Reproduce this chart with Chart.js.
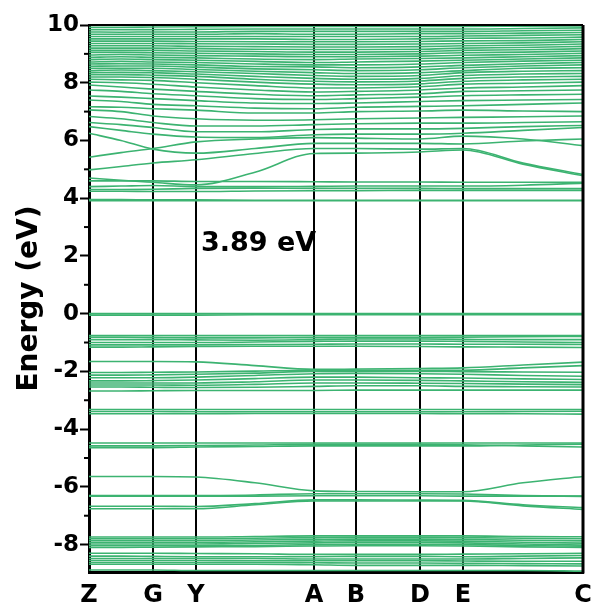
<!DOCTYPE html>
<html>
<head>
<meta charset="utf-8">
<script src="https://cdn.jsdelivr.net/npm/chart.js@4.4.1/dist/chart.umd.min.js"></script>
<style>
html, body { margin: 0; padding: 0; background: #fff; }
</style>
</head>
<body>
<canvas id="band-chart" width="593" height="610"></canvas>
<script>
// k-path (Z, mid, G, Y, mid, A, B, D, E, mid, C)
const kPath = [0, 0.32, 0.64, 1.07, 1.66, 2.25, 2.67, 3.31, 3.74, 4.34, 4.94];
const kLabels = ['Z', 'G', 'Y', 'A', 'B', 'D', 'E', 'C'];
const kLabelPos = [0, 0.64, 1.07, 2.25, 2.67, 3.31, 3.74, 4.94];
const energyTicks = [-8, -6, -4, -2, 0, 2, 4, 6, 8, 10];
const minorTicks = [-7, -5, -3, -1, 1, 3, 5, 7, 9];
const gapLabel = '3.89 eV';

// valence bands (eV), one value per k-point
const valenceBands = [
    [0.00, 0.00, 0.00, 0.00, 0.00, 0.00, 0.00, 0.00, 0.00, 0.00, 0.00],
    [-0.05, -0.05, -0.05, -0.05, -0.04, -0.04, -0.04, -0.04, -0.04, -0.04, -0.04],
    [-0.76, -0.76, -0.76, -0.76, -0.76, -0.76, -0.76, -0.76, -0.76, -0.76, -0.76],
    [-0.82, -0.82, -0.83, -0.84, -0.84, -0.83, -0.83, -0.83, -0.82, -0.80, -0.79],
    [-0.90, -0.90, -0.90, -0.91, -0.92, -0.90, -0.88, -0.88, -0.89, -0.90, -0.90],
    [-1.00, -1.00, -1.00, -1.00, -0.98, -0.96, -0.95, -0.95, -0.96, -0.98, -1.00],
    [-1.08, -1.08, -1.08, -1.08, -1.07, -1.06, -1.05, -1.05, -1.06, -1.06, -1.07],
    [-1.16, -1.16, -1.15, -1.14, -1.13, -1.13, -1.13, -1.14, -1.15, -1.16, -1.17],
    [-1.66, -1.66, -1.66, -1.67, -1.80, -1.93, -1.92, -1.90, -1.88, -1.78, -1.68],
    [-2.04, -2.04, -2.03, -2.02, -1.99, -1.96, -1.96, -1.96, -1.96, -1.88, -1.80],
    [-2.13, -2.13, -2.12, -2.10, -2.06, -2.00, -2.00, -2.00, -2.01, -2.02, -2.03],
    [-2.22, -2.22, -2.22, -2.20, -2.14, -2.08, -2.07, -2.08, -2.10, -2.14, -2.17],
    [-2.33, -2.33, -2.32, -2.30, -2.25, -2.20, -2.20, -2.22, -2.23, -2.26, -2.28],
    [-2.40, -2.40, -2.40, -2.40, -2.36, -2.30, -2.30, -2.31, -2.33, -2.36, -2.38],
    [-2.47, -2.47, -2.47, -2.48, -2.45, -2.40, -2.40, -2.41, -2.42, -2.44, -2.46],
    [-2.54, -2.54, -2.55, -2.56, -2.55, -2.52, -2.50, -2.50, -2.52, -2.53, -2.54],
    [-2.68, -2.68, -2.67, -2.66, -2.66, -2.66, -2.65, -2.65, -2.65, -2.65, -2.65],
    [-3.32, -3.32, -3.32, -3.32, -3.32, -3.32, -3.32, -3.32, -3.32, -3.32, -3.32],
    [-3.39, -3.39, -3.39, -3.40, -3.40, -3.40, -3.40, -3.40, -3.40, -3.39, -3.38],
    [-3.47, -3.47, -3.47, -3.47, -3.46, -3.46, -3.46, -3.46, -3.47, -3.47, -3.48],
    [-4.48, -4.48, -4.48, -4.48, -4.48, -4.48, -4.48, -4.48, -4.48, -4.48, -4.48],
    [-4.58, -4.58, -4.58, -4.57, -4.55, -4.53, -4.53, -4.53, -4.54, -4.58, -4.62],
    [-4.64, -4.64, -4.64, -4.62, -4.60, -4.58, -4.58, -4.58, -4.58, -4.55, -4.52],
    [-5.64, -5.64, -5.64, -5.66, -5.86, -6.14, -6.16, -6.17, -6.17, -5.86, -5.64],
    [-6.30, -6.30, -6.30, -6.30, -6.28, -6.24, -6.24, -6.24, -6.25, -6.30, -6.33],
    [-6.32, -6.32, -6.32, -6.32, -6.32, -6.31, -6.31, -6.31, -6.32, -6.32, -6.32],
    [-6.67, -6.67, -6.67, -6.68, -6.58, -6.45, -6.45, -6.46, -6.47, -6.62, -6.72],
    [-6.76, -6.76, -6.76, -6.76, -6.62, -6.49, -6.49, -6.49, -6.49, -6.66, -6.78],
    [-7.74, -7.74, -7.74, -7.74, -7.72, -7.70, -7.70, -7.70, -7.70, -7.72, -7.73],
    [-7.80, -7.80, -7.80, -7.80, -7.78, -7.76, -7.75, -7.75, -7.76, -7.78, -7.80],
    [-7.86, -7.86, -7.86, -7.86, -7.84, -7.82, -7.81, -7.81, -7.82, -7.85, -7.87],
    [-7.92, -7.92, -7.92, -7.92, -7.90, -7.88, -7.87, -7.87, -7.88, -7.92, -7.95],
    [-7.98, -7.98, -7.98, -7.98, -7.96, -7.94, -7.93, -7.93, -7.94, -7.98, -8.02],
    [-8.04, -8.04, -8.04, -8.04, -8.03, -8.00, -7.99, -7.99, -8.00, -8.03, -8.06],
    [-8.10, -8.10, -8.09, -8.08, -8.07, -8.05, -8.04, -8.04, -8.05, -8.08, -8.10],
    [-8.30, -8.30, -8.30, -8.31, -8.32, -8.34, -8.34, -8.34, -8.33, -8.32, -8.30],
    [-8.40, -8.40, -8.41, -8.42, -8.42, -8.42, -8.41, -8.41, -8.42, -8.40, -8.38],
    [-8.48, -8.48, -8.48, -8.48, -8.48, -8.50, -8.50, -8.50, -8.50, -8.48, -8.46],
    [-8.55, -8.55, -8.55, -8.55, -8.56, -8.56, -8.56, -8.56, -8.57, -8.58, -8.58],
    [-8.62, -8.62, -8.62, -8.62, -8.62, -8.63, -8.64, -8.64, -8.65, -8.66, -8.67],
    [-8.68, -8.68, -8.68, -8.68, -8.68, -8.70, -8.72, -8.72, -8.72, -8.73, -8.74],
    [-8.88, -8.88, -8.88, -8.90, -8.90, -8.90, -8.90, -8.90, -8.90, -8.90, -8.92]
];

// conduction bands (eV)
const conductionBands = [
    [3.91, 3.91, 3.91, 3.91, 3.91, 3.91, 3.91, 3.91, 3.91, 3.91, 3.91],
    [3.95, 3.95, 3.94, 3.94, 3.93, 3.93, 3.93, 3.93, 3.93, 3.93, 3.93],
    [4.24, 4.24, 4.23, 4.23, 4.25, 4.26, 4.26, 4.27, 4.27, 4.27, 4.27],
    [4.30, 4.30, 4.31, 4.34, 4.35, 4.34, 4.34, 4.34, 4.33, 4.33, 4.33],
    [4.40, 4.42, 4.44, 4.40, 4.40, 4.41, 4.42, 4.42, 4.42, 4.45, 4.52],
    [4.60, 4.60, 4.60, 4.58, 4.58, 4.57, 4.56, 4.56, 4.55, 4.55, 4.55],
    [4.70, 4.62, 4.55, 4.46, 4.90, 5.55, 5.56, 5.60, 5.67, 5.18, 4.78],
    [4.98, 5.10, 5.22, 5.33, 5.55, 5.72, 5.72, 5.70, 5.72, 5.22, 4.82],
    [5.42, 5.58, 5.72, 5.95, 6.05, 6.10, 6.08, 6.05, 6.15, 6.05, 5.82],
    [6.25, 6.00, 5.70, 5.56, 5.72, 5.90, 5.90, 5.90, 5.88, 5.98, 6.05],
    [6.48, 6.35, 6.22, 6.12, 6.10, 6.20, 6.22, 6.22, 6.25, 6.35, 6.45],
    [6.62, 6.55, 6.45, 6.30, 6.30, 6.38, 6.40, 6.40, 6.42, 6.48, 6.52],
    [6.83, 6.75, 6.62, 6.50, 6.50, 6.55, 6.58, 6.60, 6.60, 6.62, 6.65],
    [7.06, 7.00, 6.85, 6.75, 6.70, 6.72, 6.75, 6.78, 6.80, 6.82, 6.85],
    [7.17, 7.15, 7.10, 7.05, 6.95, 6.95, 7.00, 7.02, 7.05, 7.02, 7.00],
    [7.40, 7.35, 7.25, 7.20, 7.12, 7.10, 7.15, 7.18, 7.20, 7.25, 7.30],
    [7.54, 7.50, 7.45, 7.38, 7.30, 7.28, 7.30, 7.35, 7.38, 7.40, 7.42],
    [7.75, 7.70, 7.62, 7.55, 7.45, 7.42, 7.45, 7.50, 7.55, 7.58, 7.60],
    [7.92, 7.85, 7.78, 7.70, 7.60, 7.55, 7.58, 7.62, 7.70, 7.72, 7.75],
    [8.02, 8.00, 7.95, 7.85, 7.75, 7.68, 7.70, 7.75, 7.82, 7.85, 7.90],
    [8.12, 8.10, 8.08, 8.00, 7.90, 7.82, 7.82, 7.86, 7.95, 7.98, 8.02],
    [8.20, 8.20, 8.18, 8.12, 8.02, 7.95, 7.93, 7.96, 8.05, 8.10, 8.12],
    [8.28, 8.28, 8.26, 8.22, 8.12, 8.05, 8.03, 8.06, 8.15, 8.20, 8.22],
    [8.35, 8.36, 8.35, 8.30, 8.22, 8.15, 8.12, 8.15, 8.25, 8.30, 8.32],
    [8.42, 8.44, 8.42, 8.38, 8.32, 8.25, 8.22, 8.25, 8.35, 8.40, 8.42],
    [8.50, 8.50, 8.50, 8.46, 8.40, 8.35, 8.32, 8.35, 8.42, 8.50, 8.52],
    [8.57, 8.58, 8.58, 8.54, 8.48, 8.45, 8.42, 8.45, 8.52, 8.58, 8.62],
    [8.65, 8.66, 8.65, 8.62, 8.56, 8.55, 8.52, 8.55, 8.60, 8.66, 8.70],
    [8.72, 8.74, 8.72, 8.70, 8.65, 8.62, 8.62, 8.65, 8.70, 8.75, 8.78],
    [8.80, 8.82, 8.80, 8.78, 8.74, 8.70, 8.72, 8.75, 8.78, 8.82, 8.86],
    [8.88, 8.90, 8.88, 8.86, 8.82, 8.80, 8.82, 8.84, 8.86, 8.90, 8.94],
    [8.96, 8.98, 8.96, 8.94, 8.92, 8.90, 8.90, 8.92, 8.95, 8.98, 9.02],
    [9.05, 9.05, 9.04, 9.02, 9.00, 8.98, 8.98, 9.00, 9.04, 9.06, 9.10],
    [9.12, 9.12, 9.12, 9.10, 9.08, 9.06, 9.06, 9.08, 9.12, 9.14, 9.18],
    [9.20, 9.20, 9.20, 9.18, 9.16, 9.15, 9.15, 9.16, 9.20, 9.22, 9.26],
    [9.28, 9.28, 9.28, 9.26, 9.25, 9.24, 9.24, 9.25, 9.28, 9.30, 9.34],
    [9.36, 9.36, 9.36, 9.35, 9.34, 9.33, 9.33, 9.34, 9.36, 9.38, 9.42],
    [9.44, 9.44, 9.44, 9.43, 9.42, 9.42, 9.42, 9.43, 9.45, 9.46, 9.50],
    [9.52, 9.52, 9.52, 9.52, 9.52, 9.50, 9.50, 9.52, 9.54, 9.55, 9.58],
    [9.60, 9.60, 9.60, 9.60, 9.60, 9.60, 9.60, 9.60, 9.62, 9.64, 9.66],
    [9.68, 9.68, 9.68, 9.68, 9.70, 9.68, 9.68, 9.70, 9.70, 9.72, 9.74],
    [9.76, 9.75, 9.76, 9.76, 9.78, 9.78, 9.78, 9.78, 9.78, 9.80, 9.82],
    [9.84, 9.84, 9.84, 9.85, 9.86, 9.86, 9.86, 9.86, 9.86, 9.88, 9.90],
    [9.92, 9.92, 9.93, 9.94, 9.95, 9.95, 9.95, 9.95, 9.95, 9.96, 9.97]
];

const bandColor = '#3cb371';
const boldFont = 'DejaVu Sans';

// frame, minor ticks and gap label
const extrasPlugin = {
    id: 'extras',
    afterDraw(chart) {
        const ctx = chart.ctx;
        const area = chart.chartArea;
        const yScale = chart.scales.y;
        const xScale = chart.scales.x;
        ctx.save();
        ctx.strokeStyle = '#000';
        ctx.lineWidth = 2;
        ctx.beginPath();
        ctx.moveTo(area.left, area.top);
        ctx.lineTo(area.right, area.top);
        ctx.stroke();
        ctx.lineWidth = 3;
        ctx.beginPath();
        ctx.moveTo(area.right, area.top);
        ctx.lineTo(area.right, area.bottom + 1.5);
        ctx.stroke();
        ctx.lineWidth = 2;
        minorTicks.forEach(v => {
            const y = yScale.getPixelForValue(v);
            ctx.beginPath();
            ctx.moveTo(area.left - 5, y);
            ctx.lineTo(area.left, y);
            ctx.stroke();
        });
        ctx.fillStyle = '#000';
        ctx.font = 'bold 27px "' + boldFont + '"';
        ctx.textAlign = 'left';
        ctx.textBaseline = 'middle';
        ctx.fillText(gapLabel, xScale.getPixelForValue(1.12), yScale.getPixelForValue(2.4));
        ctx.restore();
    }
};

const datasets = valenceBands.concat(conductionBands).map(band => ({
    data: band.map((e, i) => ({ x: kPath[i], y: e })),
    borderColor: bandColor,
    borderWidth: 1.6,
    pointRadius: 0,
    cubicInterpolationMode: 'monotone',
    fill: false
}));

new Chart(document.getElementById('band-chart'), {
    type: 'line',
    data: { datasets: datasets },
    options: {
        responsive: false,
        animation: false,
        layout: { padding: { top: 25, right: 10, left: 0, bottom: 0 } },
        plugins: { legend: { display: false }, tooltip: { enabled: false } },
        scales: {
            x: {
                type: 'linear',
                min: 0,
                max: 4.94,
                z: 1,
                afterBuildTicks: s => { s.ticks = kLabelPos.map(v => ({ value: v })); },
                afterFit: s => { s.height = 38; s.paddingRight = 0; s.paddingLeft = 0; },
                ticks: {
                    autoSkip: false,
                    maxRotation: 0,
                    padding: 9,
                    color: '#000',
                    font: { family: boldFont, weight: 'bold', size: 24 },
                    callback: (v, i) => kLabels[i]
                },
                grid: { color: '#000', lineWidth: 2, drawTicks: false },
                border: { color: '#000', width: 3 }
            },
            y: {
                min: -8.95,
                max: 10,
                afterBuildTicks: s => { s.ticks = energyTicks.map(v => ({ value: v })); },
                afterFit: s => { s.width = 89; },
                ticks: {
                    padding: 1,
                    color: '#000',
                    font: { family: boldFont, weight: 'bold', size: 23 }
                },
                grid: { drawOnChartArea: false, tickLength: 9, tickWidth: 2, tickColor: '#000' },
                border: { color: '#000', width: 3 },
                title: {
                    display: true,
                    text: 'Energy (eV)',
                    color: '#000',
                    padding: { top: 13, bottom: 0 },
                    font: { family: boldFont, weight: 'bold', size: 28 }
                }
            }
        }
    },
    plugins: [extrasPlugin]
});
</script>
</body>
</html>
